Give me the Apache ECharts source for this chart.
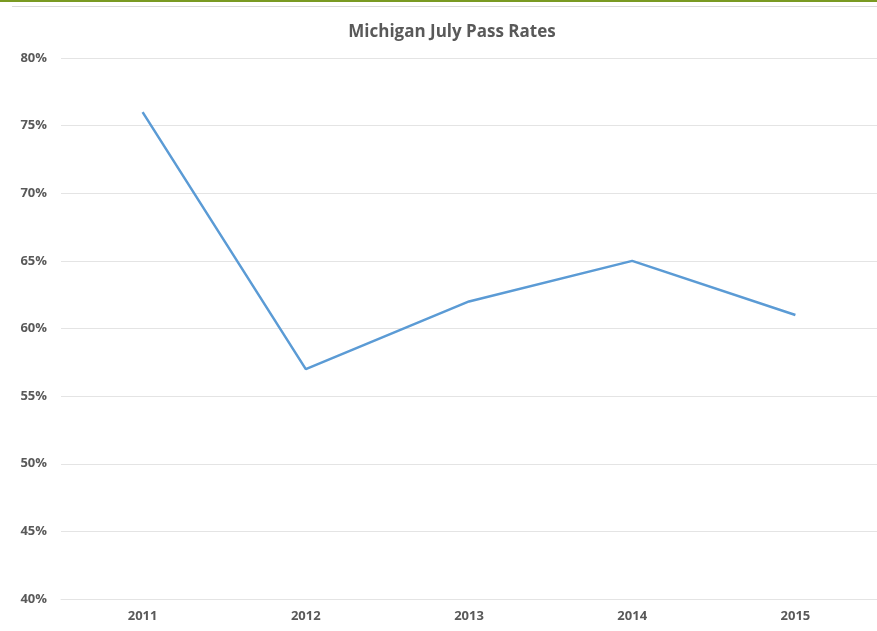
<!DOCTYPE html>
<html><head><meta charset="utf-8">
<script src="https://cdn.jsdelivr.net/npm/echarts@6/dist/echarts.min.js"></script>
<style>html,body{margin:0;padding:0;background:#fff}#c{width:877px;height:631px}</style>
</head><body><div id="c"></div>
<script>
const title = 'Michigan July Pass Rates';
const years = ['2011','2012','2013','2014','2015'];
const passRates = [76, 57, 62, 65, 61];
const yMin = 40, yMax = 80, yStep = 5;

const chart = echarts.init(document.getElementById('c'));
chart.setOption({
  animation: false,
  backgroundColor: '#fff',
  title: {
    text: title, left: 452, top: 19, textAlign: 'center',
    textStyle: {fontFamily: 'Open Sans', fontSize: 17, fontWeight: 'bold', color: '#595959'}
  },
  graphic: [
    {type: 'rect', shape: {x: 0, y: 0, width: 877, height: 2}, style: {fill: '#7a9a22'}},
    {type: 'rect', shape: {x: 12, y: 6, width: 865, height: 1}, style: {fill: '#dcdcdc'}}
  ],
  grid: {left: 61, right: -2, top: 58, bottom: 32, containLabel: false},
  xAxis: {
    type: 'category', data: years, boundaryGap: true,
    axisLine: {lineStyle: {color: '#e4e4e4'}},
    axisTick: {show: false},
    axisLabel: {margin: 11, fontFamily: 'Open Sans', fontSize: 13, fontWeight: 'bold', color: '#595959'}
  },
  yAxis: {
    type: 'value', min: yMin, max: yMax, interval: yStep,
    axisLine: {show: false}, axisTick: {show: false},
    splitLine: {lineStyle: {color: '#e4e4e4'}},
    axisLabel: {margin: 14, formatter: '{value}%', fontFamily: 'Open Sans', fontSize: 13, fontWeight: 'bold', color: '#595959'}
  },
  series: [{
    type: 'line', data: passRates, showSymbol: false,
    lineStyle: {color: '#5b9bd5', width: 2.5}
  }]
});
chart.setOption({title: {left: 447}});
</script></body></html>
